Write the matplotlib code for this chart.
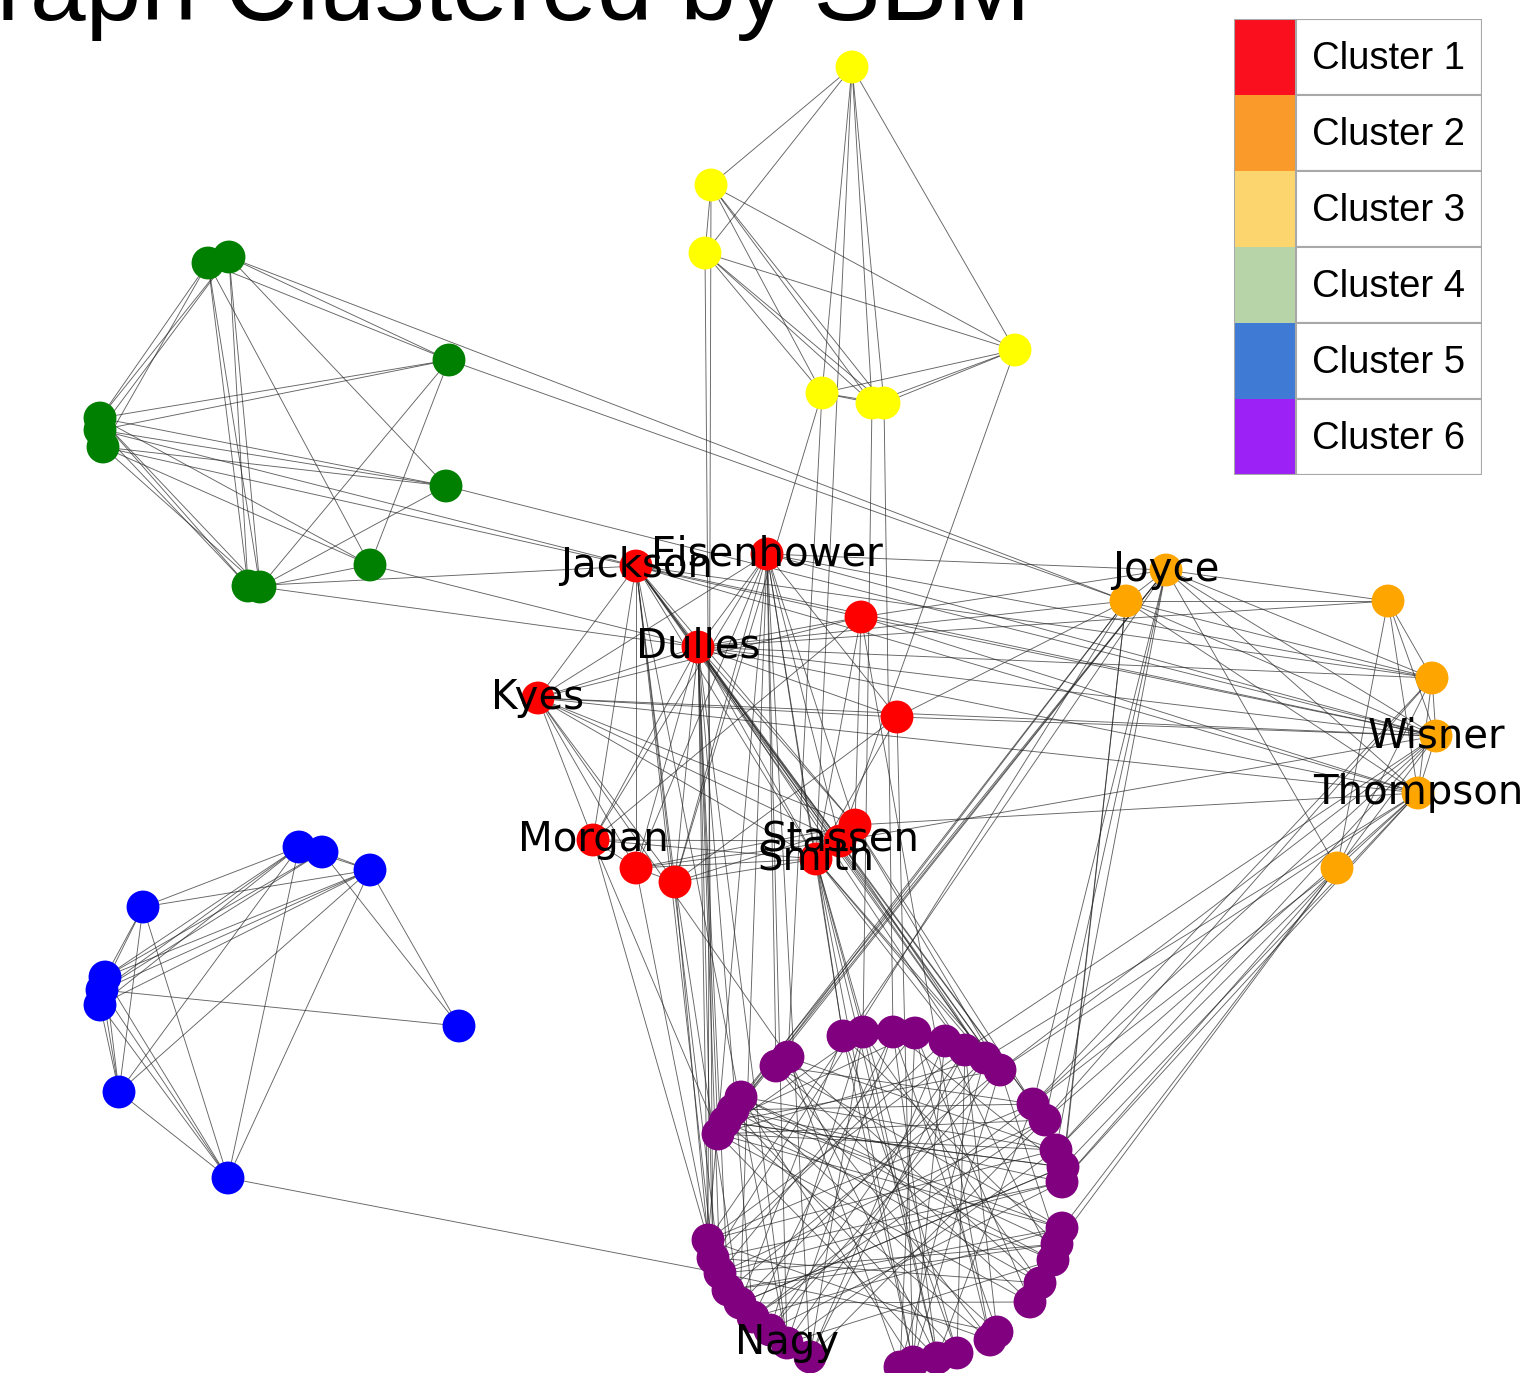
import matplotlib
matplotlib.use("Agg")
import matplotlib.pyplot as plt
from matplotlib.patches import Rectangle

W, H = 1526, 1373
DPI = 100

# ---------------- data ----------------
# node names, layout positions (layout units), cluster id
red_names = ["Jackson", "Eisenhower", "R3", "Dulles", "Kyes", "R6", "R7", "Stassen", "Smith", "Morgan", "R11", "R12"]
red_x = [636, 767, 861, 698, 538, 897, 855, 840, 816, 593, 636, 675]
red_y = [566, 554, 617, 647, 698, 717, 825, 841, 859, 840, 868, 882]

orange_names = ["Joyce", "O2", "O3", "O4", "Wisner", "Thompson", "O7"]
orange_x = [1166, 1126, 1388, 1432, 1436, 1418, 1337]
orange_y = [570, 601, 601, 678, 736, 793, 868]

yellow_names = ["Y1", "Y2", "Y3", "Y4", "Y5", "Y6", "Y7"]
yellow_x = [852, 711, 705, 1015, 822, 872, 884]
yellow_y = [67, 185, 253, 350, 393, 403, 403]

green_names = ["G1", "G2", "G3", "G4", "G5", "G6", "G7", "G8", "G9", "G10"]
green_x = [208, 229, 449, 100, 100, 103, 446, 370, 248, 260]
green_y = [263, 257, 360, 418, 430, 447, 486, 565, 586, 587]

blue_names = ["B1", "B2", "B3", "B4", "B5", "B6", "B7", "B8", "B9", "B10"]
blue_x = [299, 322, 370, 143, 105, 102, 100, 459, 119, 228]
blue_y = [847, 852, 870, 907, 977, 990, 1005, 1026, 1092, 1178]

purple_names = ["P1", "P2", "P3", "P4", "P5", "P6", "P7", "P8", "P9", "P10",
                "P11", "P12", "P13", "P14", "P15", "P16", "P17", "P18", "P19", "P20",
                "P21", "P22", "P23", "P24", "P25", "P26", "P27", "Nagy", "P29", "P30",
                "P31", "P32", "P33", "P34", "P35", "P36", "P37", "P38", "P39"]
purple_x = [776, 788, 843, 863, 893, 915, 945, 965, 985, 1000,
            1033, 1045, 1056, 1063, 1062, 1062, 1057, 1053, 1040, 1030,
            997, 990, 957, 937, 913, 900, 810, 787, 770, 753,
            740, 728, 720, 713, 708, 718, 725, 733, 741]
purple_y = [1066, 1057, 1036, 1032, 1032, 1033, 1041, 1050, 1058, 1070,
            1104, 1120, 1150, 1167, 1182, 1228, 1244, 1260, 1283, 1302,
            1332, 1340, 1353, 1358, 1362, 1367, 1357, 1343, 1330, 1317,
            1303, 1290, 1273, 1258, 1240, 1134, 1122, 1110, 1097]

labelled = ["Jackson", "Eisenhower", "Dulles", "Kyes", "Morgan", "Stassen", "Smith",
            "Joyce", "Wisner", "Thompson", "Nagy"]

edges = [
    # yellow
    ("Y1", "Y2"), ("Y1", "Y3"), ("Y1", "Y4"), ("Y1", "Y5"), ("Y1", "Y6"), ("Y1", "Y7"),
    ("Y2", "Y3"), ("Y2", "Y4"), ("Y2", "Y5"), ("Y2", "Y6"), ("Y2", "Y7"),
    ("Y3", "Y4"), ("Y3", "Y5"), ("Y3", "Y6"), ("Y3", "Y7"),
    ("Y4", "Y5"), ("Y4", "Y6"), ("Y4", "Y7"), ("Y5", "Y6"), ("Y5", "Y7"),
    ("Y2", "P35"), ("Y3", "P34"), ("Y1", "Smith"), ("Y5", "R12"), ("Y5", "P2"),
    ("Y6", "P4"), ("Y7", "P5"), ("Y4", "Stassen"),
    # green
    ("G1", "G4"), ("G2", "G5"), ("G1", "G6"), ("G2", "G4"), ("G1", "G3"), ("G2", "G3"),
    ("G1", "G9"), ("G2", "G9"), ("G1", "G10"), ("G2", "G10"), ("G1", "G8"), ("G2", "G7"),
    ("G4", "G3"), ("G5", "G3"), ("G4", "G7"), ("G5", "G7"), ("G6", "G7"), ("G4", "G8"),
    ("G6", "G8"), ("G5", "G9"), ("G4", "G10"), ("G6", "G10"), ("G3", "G8"), ("G3", "G10"),
    ("G7", "G10"), ("G8", "G10"), ("G4", "G9"),
    ("G2", "O2"), ("G3", "O2"), ("G5", "Jackson"), ("G6", "R3"), ("G8", "Dulles"),
    ("G10", "Dulles"), ("G9", "Jackson"), ("G7", "Wisner"),
    # blue
    ("B4", "B1"), ("B4", "B3"), ("B5", "B1"), ("B5", "B2"), ("B6", "B1"), ("B6", "B3"),
    ("B5", "B3"), ("B7", "B3"), ("B6", "B2"), ("B7", "B1"), ("B6", "B8"), ("B3", "B8"),
    ("B2", "B8"), ("B1", "B3"), ("B2", "B3"), ("B1", "B9"), ("B3", "B9"), ("B1", "B10"),
    ("B3", "B10"), ("B4", "B10"), ("B4", "B5"), ("B4", "B6"), ("B4", "B9"), ("B5", "B9"),
    ("B6", "B9"), ("B7", "B9"), ("B5", "B10"), ("B6", "B10"), ("B7", "B10"), ("B9", "B10"),
    ("B10", "P33"),
    # red internal
    ("Jackson", "Kyes"), ("Jackson", "Dulles"), ("Jackson", "Morgan"), ("Jackson", "R11"),
    ("Jackson", "R12"), ("Jackson", "Smith"), ("Jackson", "Stassen"), ("Jackson", "R7"),
    ("Eisenhower", "Kyes"), ("Eisenhower", "Dulles"), ("Eisenhower", "Morgan"),
    ("Eisenhower", "R11"), ("Eisenhower", "R12"), ("Eisenhower", "Smith"),
    ("Eisenhower", "Stassen"), ("Eisenhower", "R7"), ("Eisenhower", "R6"),
    ("R3", "Dulles"), ("R3", "Kyes"), ("R3", "Smith"), ("R3", "R7"), ("R3", "Morgan"),
    ("R6", "Kyes"), ("R6", "Smith"), ("R6", "Dulles"), ("R6", "R12"),
    ("Dulles", "Kyes"), ("Dulles", "Morgan"), ("Dulles", "R11"), ("Dulles", "R12"),
    ("Dulles", "Smith"), ("Dulles", "Stassen"), ("Dulles", "R7"),
    ("Kyes", "Morgan"), ("Kyes", "R11"), ("Kyes", "R12"), ("Kyes", "Smith"),
    ("Kyes", "Stassen"), ("Kyes", "R7"),
    ("Morgan", "Smith"), ("Morgan", "Stassen"), ("R11", "Smith"), ("R11", "Stassen"),
    ("R12", "Smith"), ("R12", "R7"), ("R11", "R7"), ("Morgan", "R11"), ("R11", "R12"),
    # red - orange
    ("Jackson", "Wisner"), ("Jackson", "Thompson"), ("Jackson", "O4"),
    ("Eisenhower", "Wisner"), ("Eisenhower", "O4"), ("Eisenhower", "Joyce"),
    ("R3", "Wisner"), ("R3", "Joyce"), ("R3", "Thompson"),
    ("Dulles", "Wisner"), ("Dulles", "Thompson"), ("Dulles", "O4"), ("Dulles", "O3"),
    ("Kyes", "Wisner"), ("Kyes", "Thompson"), ("R6", "Wisner"), ("R6", "O2"),
    ("Stassen", "Wisner"), ("R7", "Thompson"), ("Dulles", "O2"),
    # orange internal
    ("Joyce", "O3"), ("O2", "O3"), ("Joyce", "O4"), ("Joyce", "Wisner"), ("Joyce", "Thompson"),
    ("O2", "O4"), ("O2", "Wisner"), ("O2", "Thompson"), ("Joyce", "O7"), ("Joyce", "O2"),
    ("O3", "O4"), ("O3", "Wisner"), ("O3", "Thompson"), ("O3", "O7"),
    ("O4", "Wisner"), ("O4", "Thompson"), ("O4", "O7"), ("Wisner", "Thompson"),
    ("Wisner", "O7"), ("Thompson", "O7"),
    # orange - purple
    ("Joyce", "P39"), ("Joyce", "P36"), ("Joyce", "P35"), ("Joyce", "P12"), ("Joyce", "P13"),
    ("Joyce", "P37"), ("Joyce", "P11"), ("O2", "P38"), ("O2", "P34"),
    ("O2", "P14"), ("O2", "P15"), ("O2", "P36"),
    ("Wisner", "P10"), ("Wisner", "P11"), ("Wisner", "P8"), ("Wisner", "P13"),
    ("Thompson", "P10"), ("Thompson", "P12"), ("Thompson", "P9"), ("Thompson", "P14"),
    ("Thompson", "P15"), ("O4", "P11"), ("O4", "P12"),
    ("O7", "P13"), ("O7", "P15"), ("O7", "P16"), ("O7", "P17"), ("O7", "P11"),
    # red - purple
    ("Dulles", "P8"), ("Dulles", "P9"), ("Dulles", "P10"), ("Jackson", "P10"), ("Jackson", "P9"),
    ("Jackson", "P11"), ("Dulles", "P35"), ("Dulles", "P34"), ("Dulles", "P36"),
    ("Dulles", "P33"), ("Dulles", "P32"), ("Dulles", "P30"), ("Dulles", "Nagy"),
    ("Eisenhower", "P3"), ("Eisenhower", "P35"), ("Eisenhower", "Nagy"),
    ("Eisenhower", "P1"), ("Eisenhower", "P27"), ("Eisenhower", "P31"),
    ("Smith", "P3"), ("Smith", "P4"), ("Smith", "P23"), ("Smith", "P24"),
    ("Smith", "P8"), ("Smith", "P9"), ("Smith", "P10"), ("Smith", "P25"),
    ("Stassen", "P9"), ("Stassen", "P12"), ("R7", "P11"), ("R7", "P10"),
    ("Morgan", "P35"), ("Morgan", "P36"), ("Jackson", "P34"), ("Jackson", "Nagy"),
    ("Jackson", "P33"), ("R12", "P35"), ("R12", "P31"), ("R11", "P34"),
    ("R3", "P22"), ("R6", "P25"), ("Kyes", "P2"),
    # purple internal
    ("P1", "P11"), ("P1", "P16"), ("P1", "P20"), ("P2", "P13"), ("P2", "P24"),
    ("P3", "P17"), ("P3", "P25"), ("P3", "P31"), ("P4", "P19"), ("P4", "P29"),
    ("P4", "P36"), ("P5", "P21"), ("P5", "P30"), ("P5", "P14"), ("P6", "P33"),
    ("P6", "P22"), ("P6", "P37"), ("P7", "P27"), ("P7", "P34"), ("P7", "P18"),
    ("P8", "P29"), ("P8", "P35"), ("P8", "P23"), ("P9", "P31"), ("P9", "P36"),
    ("P9", "P26"), ("P10", "P32"), ("P10", "P37"), ("P10", "P25"), ("P11", "P38"),
    ("P11", "P30"), ("P11", "P24"), ("P12", "P36"), ("P12", "P33"), ("P12", "P27"),
    ("P13", "P39"), ("P13", "Nagy"), ("P13", "P35"), ("P14", "P37"), ("P14", "P31"),
    ("P15", "P38"), ("P15", "P33"), ("P15", "P29"), ("P16", "P36"), ("P16", "P30"),
    ("P17", "P39"), ("P17", "P32"), ("P18", "P37"), ("P18", "Nagy"), ("P19", "P38"),
    ("P19", "P34"), ("P20", "P36"), ("P20", "P31"), ("P21", "P39"), ("P21", "P33"),
    ("P22", "P37"), ("P22", "P35"), ("P23", "P38"), ("P23", "P3"), ("P24", "P36"),
    ("P24", "P5"), ("P25", "P39"), ("P25", "P7"), ("P26", "P2"), ("P26", "P6"),
    ("P27", "P4"), ("P27", "P8"), ("Nagy", "P9"), ("Nagy", "P5"), ("P29", "P10"),
    ("P30", "P12"), ("P31", "P14"), ("P32", "P16"), ("P33", "P17"), ("P34", "P15"),
    ("P35", "P11"), ("P36", "P13"), ("P37", "P14"), ("P38", "P16"),
    ("P39", "P18"), ("P2", "P19"), ("P1", "P22"), ("P4", "P24"), ("P6", "P20"),
    ("P8", "P21"), ("P10", "P17"),
]

cluster_labels = ["Cluster 1", "Cluster 2", "Cluster 3", "Cluster 4", "Cluster 5", "Cluster 6"]
legend_colors = ["#F90F1E", "#F99A2A", "#FDD56E", "#B6D4A8", "#3F7BD5", "#9B21F6"]
node_colors = ["red", "orange", "yellow", "green", "blue", "purple"]

title = "Graph Clustered by SBM"

# ---------------- build ----------------
groups = [
    (red_names, red_x, red_y),
    (orange_names, orange_x, orange_y),
    (yellow_names, yellow_x, yellow_y),
    (green_names, green_x, green_y),
    (blue_names, blue_x, blue_y),
    (purple_names, purple_x, purple_y),
]
pos = {}
for names, xs, ys in groups:
    for n, x, y in zip(names, xs, ys):
        pos[n] = (x, y)

fig = plt.figure(figsize=(W / DPI, H / DPI), dpi=DPI)
fig.patch.set_facecolor("white")
ax = fig.add_axes([0, 0, 1, 1])
ax.set_xlim(0, W)
ax.set_ylim(H, 0)
ax.axis("off")

# edges
for a, b in edges:
    (x1, y1), (x2, y2) = pos[a], pos[b]
    ax.plot([x1, x2], [y1, y2], color="#222222", lw=0.65, alpha=0.7, zorder=1,
            solid_capstyle="butt")

# nodes
for (names, xs, ys), col in zip(groups, node_colors):
    ax.scatter(xs, ys, s=560, c=col, edgecolors="none", zorder=2)

# labels
for n in labelled:
    x, y = pos[n]
    ax.text(x, y, n, ha="center", va="center", fontsize=29,
            family="DejaVu Sans", color="black", zorder=3)

# title (partially outside canvas as in the reference)
fig.text(475 / W, 1 - 20 / H, title, ha="center", va="baseline",
         fontsize=72, family="Liberation Sans", color="black")

# legend table
lx0, ly0, lw_, lh_ = 1234, 19, 248, 456
lax = fig.add_axes([lx0 / W, 1 - (ly0 + lh_) / H, lw_ / W, lh_ / H])
lax.set_xlim(0, lw_)
lax.set_ylim(lh_, 0)
lax.axis("off")
row_h = lh_ / len(cluster_labels)
swatch_w = 62
for i, (lab, col) in enumerate(zip(cluster_labels, legend_colors)):
    y0 = i * row_h
    lax.add_patch(Rectangle((0, y0), swatch_w, row_h, facecolor=col, edgecolor="none"))
    lax.add_patch(Rectangle((swatch_w, y0), lw_ - swatch_w, row_h, facecolor="white",
                            edgecolor="#A8A8A8", lw=1.5))
    lax.text(78, y0 + row_h / 2 + 2, lab, ha="left", va="center", fontsize=27.5,
             family="Liberation Sans", color="black")
lax.add_patch(Rectangle((0, 0), lw_, lh_, facecolor="none", edgecolor="#A8A8A8", lw=1.5))

fig.savefig("out.png", dpi=DPI, facecolor="white")
